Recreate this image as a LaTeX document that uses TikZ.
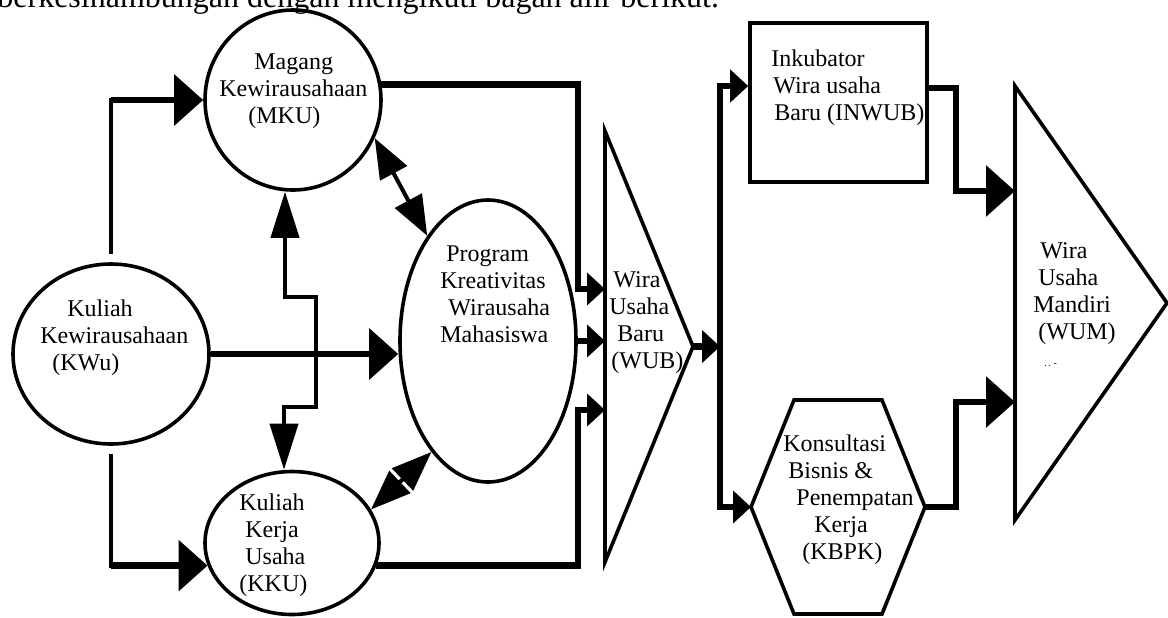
\documentclass[tikz,border=0pt]{standalone}
\usepackage{fontspec}
\setmainfont{Liberation Serif}
\usetikzlibrary{arrows.meta,shapes.geometric}

\begin{document}
\begin{tikzpicture}[x=0.5pt,y=-0.5pt,
    ring/.style={draw,ellipse,line width=1.8pt,inner sep=0pt},
    frame/.style={inner sep=0pt,outer sep=0pt},
    outline/.style={line width=1.8pt},
    txt/.style={font=\fontsize{12}{13.5}\selectfont,align=left,inner sep=0pt,anchor=base west},
    thinline/.style={line width=2pt},
    thickline/.style={line width=3.2pt},
    bigtip/.tip={Triangle[length=14.5pt,width=25pt]},
    stip/.tip={Triangle[length=9pt,width=16pt]},
    vtip/.tip={Triangle[length=23pt,width=14pt]},
    dtip/.tip={Triangle[length=20pt,width=15pt]}]
    \useasboundingbox (0,0) rectangle (1168,617);
    \node[anchor=base west,inner sep=0pt,font=\fontsize{16}{19}\selectfont] (intro) at (-3,7.5) {berkesinambungan dengan mengikuti bagan alir berikut.};
    % circles
    \node[ring,minimum width=98pt,minimum height=90pt] (kwu) at (111,354) {};
    \node[ring,minimum width=88pt,minimum height=90pt] (mku) at (293,100) {};
    \node[ring,minimum width=87pt,minimum height=71.5pt] (kku) at (292,543) {};
    \node[ring,minimum width=88pt,minimum height=141pt] (pkwm) at (488,341) {};
    % triangles, box and hexagon
    \node[frame,minimum width=44pt,minimum height=215.5pt] (wub) at (649,346.5) {};
    \draw[outline] (wub.north west) -- (wub.east) -- (wub.south west) -- cycle;
    \node[draw,line width=1.8pt,minimum width=88.5pt,minimum height=79.5pt,inner sep=0pt] (inwub) at (838.5,102.5) {};
    \node[frame,minimum width=87pt,minimum height=107pt] (kbpk) at (838,507) {};
    \draw[outline] ([xshift=21.5pt]kbpk.north west) -- ([xshift=-21.5pt]kbpk.north east) -- (kbpk.east)
        -- ([xshift=-21.5pt]kbpk.south east) -- ([xshift=21.5pt]kbpk.south west) -- (kbpk.west) -- cycle;
    \node[frame,minimum width=76pt,minimum height=217pt] (wum) at (1091,303) {};
    \draw[outline] (wum.north west) -- (wum.east) -- (wum.south west) -- cycle;
    % labels (placed at the baseline of their last line)
    \node[txt] (kwu-t) at (40,370) {\hspace*{13.5pt}Kuliah\\Kewirausahaan\\\hspace*{6pt}(KWu)};
    \node[txt] (mku-t) at (219,123) {\hspace*{17.5pt}Magang\\Kewirausahaan\\\hspace*{14.5pt}(MKU)};
    \node[txt] (kku-t) at (239,591) {Kuliah\\\hspace*{3pt}Kerja\\\hspace*{3pt}Usaha\\(KKU)};
    \node[txt] (pkwm-t) at (440,342) {\hspace*{3pt}Program\\Kreativitas\\\hspace*{4pt}Wirausaha\\Mahasiswa};
    \node[txt] (wub-t) at (609,368) {\hspace*{2pt}Wira\\Usaha\\\hspace*{4pt}Baru\\\hspace*{1pt}(WUB)};
    \node[txt] (inwub-t) at (771,120) {Inkubator\\\hspace*{1pt}Wira usaha\\\hspace*{1.5pt}Baru (INWUB)};
    \node[txt] (kbpk-t) at (783,559) {Konsultasi\\\hspace*{2.5pt}Bisnis \&\\\hspace*{6.5pt}Penempatan\\\hspace*{15.5pt}Kerja\\\hspace*{9.5pt}(KBPK)};
    \node[txt] (wum-t) at (1033,366) {\hspace*{3.5pt}Wira\\\hspace*{2.5pt}Usaha\\Mandiri\\\hspace*{2.5pt}(WUM)\\\hspace*{5.5pt}{\tiny.\,.\ -}};
    % from KWu
    \draw[thinline,shorten <=5pt,line cap=rect] (kwu.north) -- (kwu.north |- mku.west);
    \draw[thickline,-bigtip] (kwu.north |- mku.west) -- (mku.west);
    \draw[thinline,shorten <=5pt,line cap=rect] (kwu.south) -- (kwu.south |- kku.195);
    \draw[thickline,-bigtip] (kwu.south |- kku.195) -- (kku.195);
    \draw[thickline,-bigtip] (kwu.east) -- (kwu.east -| pkwm.west);
    % between MKU, KKU and PKWM
    \draw[thinline,vtip-vtip] ([xshift=-4pt]mku.south) -- ++(0,105) -| ++(31,110) -| ([xshift=-4pt]kku.north);
    \draw[thinline,dtip-dtip] (mku.-25) -- (pkwm.120);
    \draw[thinline,dtip-dtip] (kku.23) -- (pkwm.243);
    % into WUB
    \draw[thickline,-stip] (mku.10) -| ([xshift=-13.5pt,yshift=28.75pt]wub.west) -- ([yshift=28.75pt]wub.west);
    \draw[thickline,-stip] (pkwm.east) -- (pkwm.east -| wub.west);
    \draw[thickline,-stip] (kku.-15) -| ([xshift=-13.5pt,yshift=-31.75pt]wub.west) -- ([yshift=-31.75pt]wub.west);
    % WUB to INWUB and KBPK
    \coordinate (bus) at ([xshift=13.5pt]wub.east);
    \draw[thickline,-stip] (wub.east) -- (bus);
    \draw[thickline,-stip] (bus) |- ([yshift=8.25pt]inwub.west);
    \draw[thickline,-stip] (bus) |- (kbpk.west);
    % into WUM
    \draw[thickline,-bigtip] ([yshift=7.25pt]inwub.east) -| ([xshift=-29.5pt,yshift=56pt]wum.west) -- ([yshift=56pt]wum.west);
    \draw[thickline,-bigtip] (kbpk.east) -| ([xshift=-29.5pt,yshift=-49.5pt]wum.west) -- ([yshift=-49.5pt]wum.west);
\end{tikzpicture}
\end{document}
